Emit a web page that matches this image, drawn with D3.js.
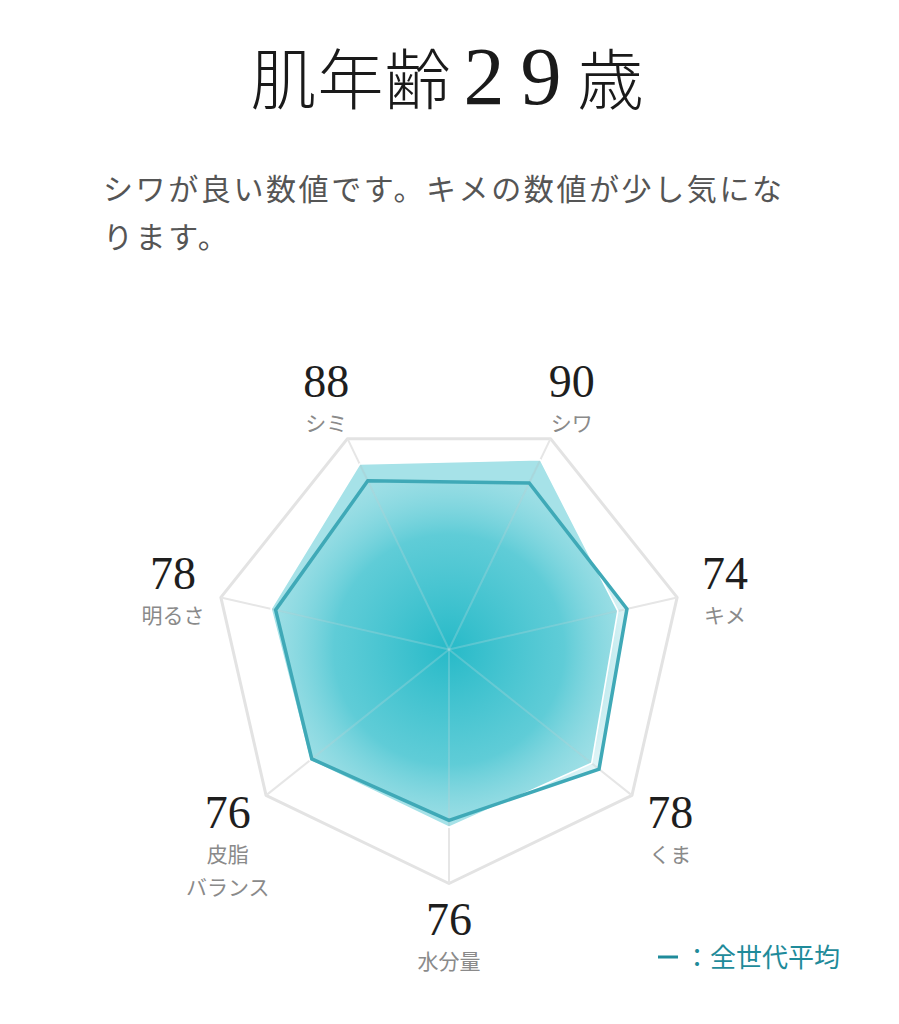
<!DOCTYPE html>
<html lang="ja">
<head>
<meta charset="utf-8">
<script src="https://cdn.jsdelivr.net/npm/d3@7"></script>
<style>
  html, body { margin: 0; padding: 0; background: #fff; }
  svg { display: block; }
</style>
</head>
<body>
<svg id="chart" width="899" height="1024"></svg>
<script>
// ---- data ----
const titleParts = ["肌年齢", "29", "歳"];
const commentLines = ["シワが良い数値です。キメの数値が少し気にな", "ります。"];
const categories = ["シミ", "シワ", "キメ", "くま", "水分量", "皮脂\nバランス", "明るさ"];
const userValues = [88, 90, 74, 78, 76, 76, 78];
const averageValues = [80, 79, 78, 82, 73, 75, 76];
const legendLabel = "：全世代平均";
const maxValue = 100;

// ---- layout ----
const W = 899, H = 1024;
const cx = 449, cy = 649.5, R = 234;
const labelR = 283;
const svg = d3.select("#chart");
const defs = svg.append("defs");

const rScale = d3.scaleLinear().domain([0, maxValue]).range([0, R]);
const n = categories.length;
const aScale = d3.scaleLinear().domain([0, n]).range([-Math.PI / n, 2 * Math.PI - Math.PI / n]);

const serif = "'Liberation Serif', 'DejaVu Serif', serif";
const sans = "'Noto Sans CJK JP', 'Noto Sans', sans-serif";

// ---- title ----
const title = svg.append("text")
  .attr("x", cx - 2).attr("y", 104)
  .attr("text-anchor", "middle")
  .attr("fill", "#1a1a1a");
title.append("tspan").text(titleParts[0])
  .attr("font-family", sans).attr("font-size", 66).attr("font-weight", 300)
  .attr("letter-spacing", 1);
title.append("tspan").text(titleParts[1])
  .attr("font-family", serif).attr("font-size", 82)
  .attr("dx", 12).attr("letter-spacing", 16);
title.append("tspan").text(titleParts[2])
  .attr("font-family", sans).attr("font-size", 66).attr("font-weight", 300);

// ---- comment ----
svg.append("g").selectAll("text").data(commentLines).join("text")
  .attr("x", 103).attr("y", (d, i) => 200 + i * 48)
  .attr("font-family", sans).attr("font-size", 30)
  .attr("letter-spacing", 2.6)
  .attr("fill", "#555")
  .text(d => d);

// ---- radar ----
const g = svg.append("g").attr("transform", `translate(${cx},${cy})`);

const pt = (i, r) => [r * Math.sin(aScale(i)), -r * Math.cos(aScale(i))];

const radial = d3.lineRadial()
  .angle((d, i) => aScale(i))
  .radius(d => rScale(d))
  .curve(d3.curveLinearClosed);

// gradient for average area
const grad = defs.append("radialGradient")
  .attr("id", "avgGrad")
  .attr("gradientUnits", "userSpaceOnUse")
  .attr("cx", 0).attr("cy", 0).attr("r", rScale(82));
grad.append("stop").attr("offset", 0).attr("stop-color", "#27bac8").attr("stop-opacity", 1);
grad.append("stop").attr("offset", 0.6).attr("stop-color", "#3ec2cf").attr("stop-opacity", 0.68);
grad.append("stop").attr("offset", 1).attr("stop-color", "#9adce3").attr("stop-opacity", 0.25);

// grid: outer ring and spokes
g.append("path")
  .attr("d", radial(categories.map(() => maxValue)))
  .attr("fill", "none")
  .attr("stroke", "#e3e3e3")
  .attr("stroke-width", 3)
  .attr("stroke-linejoin", "round");

g.append("g").selectAll("line").data(categories).join("line")
  .attr("x1", 0).attr("y1", 0)
  .attr("x2", (d, i) => pt(i, rScale(maxValue))[0])
  .attr("y2", (d, i) => pt(i, rScale(maxValue))[1])
  .attr("stroke", "#e6e6e6")
  .attr("stroke-width", 2);

// user area (flat)
g.append("path")
  .attr("d", radial(userValues))
  .attr("fill", "#2bbac9")
  .attr("fill-opacity", 0.42);

// average area (gradient)
g.append("path")
  .attr("d", radial(averageValues))
  .attr("fill", "url(#avgGrad)");

// faint spokes over fill
g.append("g").selectAll("line").data(categories).join("line")
  .attr("x1", 0).attr("y1", 0)
  .attr("x2", (d, i) => pt(i, rScale(d3.max([userValues[i], averageValues[i]])))[0])
  .attr("y2", (d, i) => pt(i, rScale(d3.max([userValues[i], averageValues[i]])))[1])
  .attr("stroke", "#e8e8e8")
  .attr("stroke-opacity", 0.22)
  .attr("stroke-width", 2);

// user edge (white)
g.append("path")
  .attr("d", radial(userValues))
  .attr("fill", "none")
  .attr("stroke", "#ffffff")
  .attr("stroke-width", 1.6);

// average line
g.append("path")
  .attr("d", radial(averageValues))
  .attr("fill", "none")
  .attr("stroke", "#3fa9b7")
  .attr("stroke-width", 3.5)
  .attr("stroke-linejoin", "miter");

// ---- labels ----
const lab = g.append("g").selectAll("g").data(categories).join("g")
  .attr("transform", (d, i) => {
    const p = pt(i, labelR);
    return `translate(${p[0]},${p[1]})`;
  });

lab.append("text")
  .attr("text-anchor", "middle")
  .attr("y", 2)
  .attr("font-family", serif)
  .attr("font-size", 46)
  .attr("fill", "#1e1e1e")
  .text((d, i) => userValues[i]);

lab.each(function(d) {
  const lines = d.split("\n");
  d3.select(this).selectAll("text.cat").data(lines).join("text")
    .attr("class", "cat")
    .attr("text-anchor", "middle")
    .attr("y", (l, j) => 36 + j * 33)
    .attr("font-family", sans)
    .attr("font-size", 21)
    .attr("fill", "#8a8a8a")
    .text(l => l);
});

// ---- legend ----
const leg = svg.append("g").attr("transform", "translate(658,957)");
leg.append("line")
  .attr("x1", 0).attr("x2", 20).attr("y1", 0).attr("y2", 0)
  .attr("stroke", "#1f8b9a").attr("stroke-width", 3);
leg.append("text")
  .attr("x", 26).attr("y", 10)
  .attr("font-family", sans).attr("font-size", 26)
  .attr("fill", "#1f8b9a")
  .text(legendLabel);
</script>
</body>
</html>
